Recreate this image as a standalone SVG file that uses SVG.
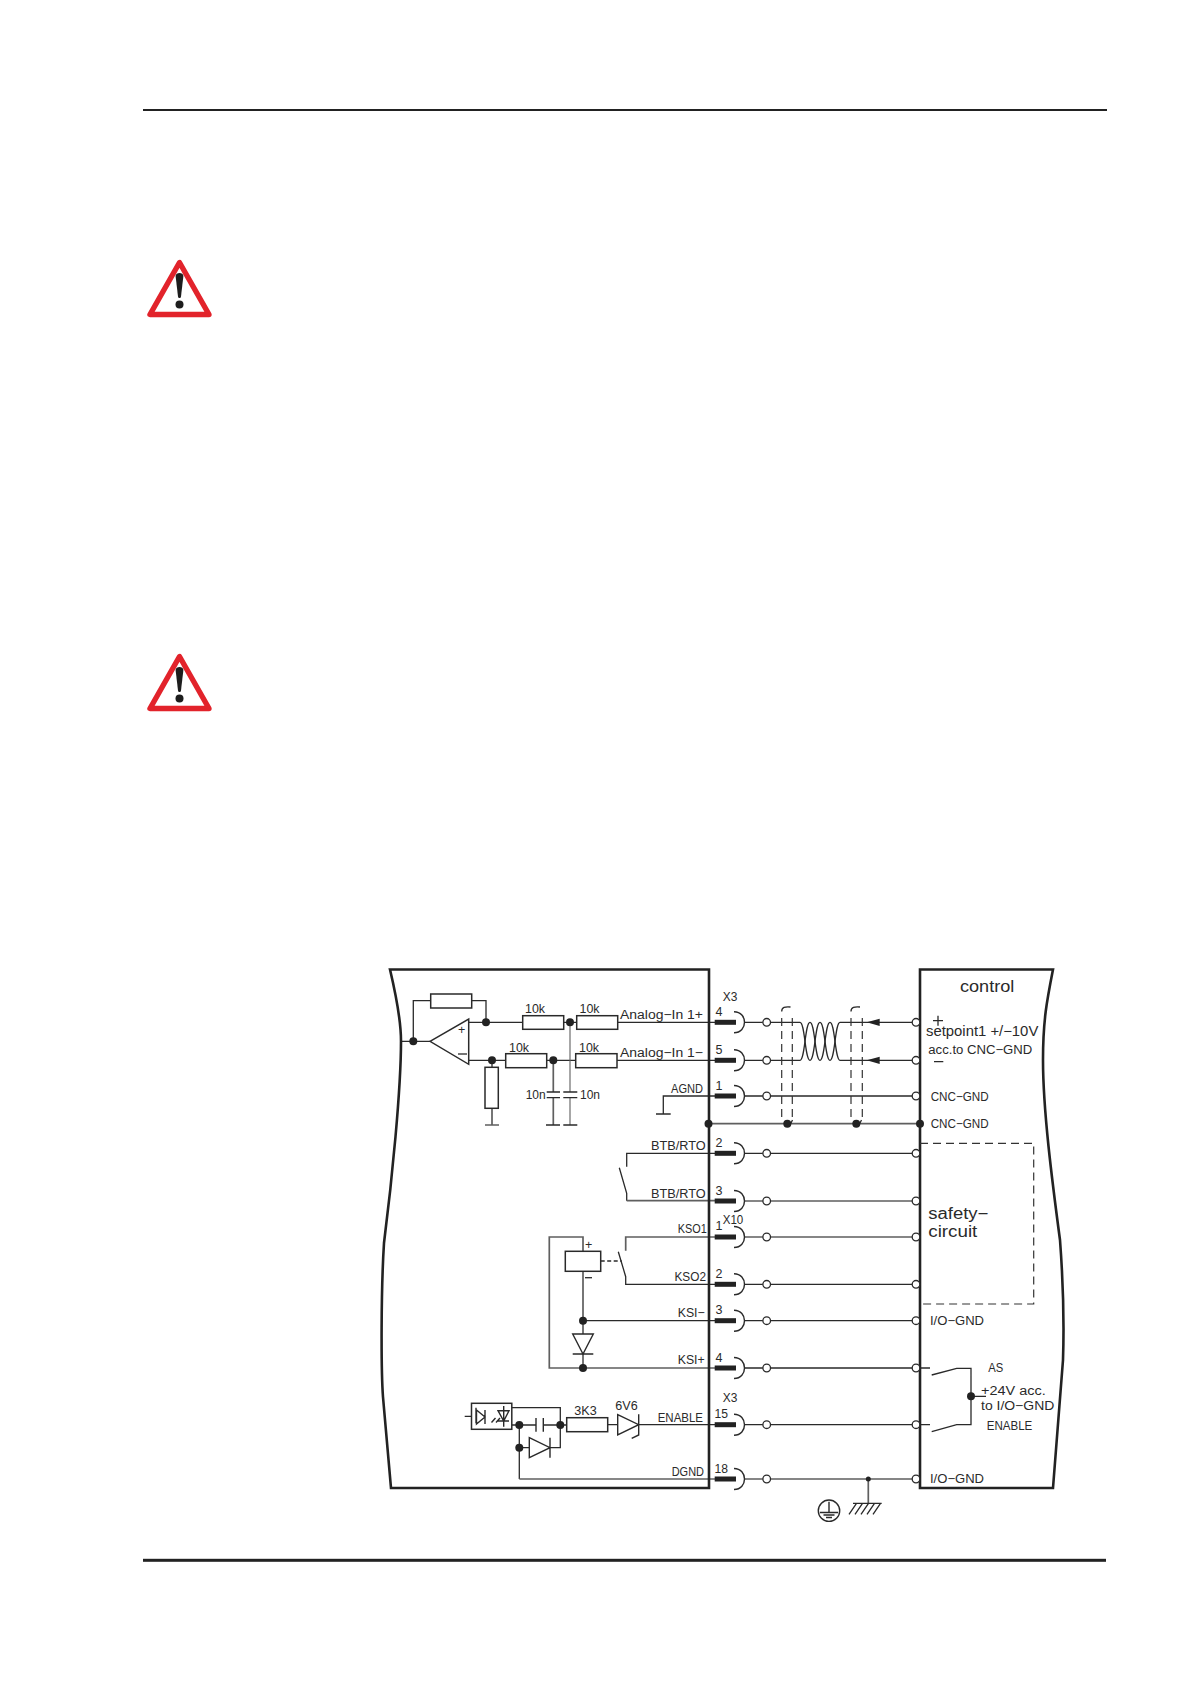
<svg xmlns="http://www.w3.org/2000/svg" xmlns:xlink="http://www.w3.org/1999/xlink" width="1190" height="1684" viewBox="0 0 1190 1684">
<style>
text{font-family:"Liberation Sans",Arial,sans-serif;font-size:12.5px;fill:#2a2a2a}
.w{fill:none;stroke:#2a2a2a;stroke-width:1.3}
.g{fill:none;stroke:#5f5f5f;stroke-width:1.7}
.t{fill:none;stroke:#5f5f5f;stroke-width:1.1}
.box{fill:none;stroke:#222;stroke-width:2.6;stroke-linejoin:miter}
.part{fill:#fff;stroke:#2a2a2a;stroke-width:1.5}
.open{fill:none;stroke:#2a2a2a;stroke-width:1.4}
.dot{fill:#222;stroke:none}
.dash{fill:none;stroke:#333;stroke-width:1.2;stroke-dasharray:8 5}
.ring{fill:#fff;stroke:#2a2a2a;stroke-width:1.3}
.big{font-size:16px}
.mid{font-size:14px}
</style>
<defs>
<g id="pin">
<rect x="714.7" y="-2.5" width="21.3" height="5" fill="#222"/>
<path d="M734 -10.5C748 -10.5 748 10.5 734 10.5" class="open"/>
<circle cx="766.7" cy="0" r="3.8" class="ring"/>
</g>
<g id="warn">
<path d="M179.5 262.5L150 314.5L209 314.5Z" fill="#fff" stroke="#e2232b" stroke-width="5.4" stroke-linejoin="round"/>
<path d="M175.6 276C175.6 272 183.4 272 183.4 276L181 296.5C180.7 298.5 178.3 298.5 178 296.5Z" fill="#1d1d1d"/>
<circle cx="179.5" cy="304.5" r="4" fill="#1d1d1d"/>
</g>
<path id="head" d="M0 0L13 -3.6L13 3.6Z" fill="#222"/>
</defs>

<g id="page-rules">
<rect x="143" y="109" width="964" height="2" fill="#222"/>
<rect x="143" y="1558.8" width="963" height="3" fill="#222"/>
</g>
<use id="warning-1" href="#warn" xlink:href="#warn"/>
<use id="warning-2" href="#warn" xlink:href="#warn" transform="translate(0 394)"/>

<g id="connectors">
<path class="w" d="M401 1041.3H430M413.3 1041.3V1000.7H430.7M471.7 1000.7H486V1022.3M468.7 1022.3H522.7M563.7 1022.3H576.7M617.7 1022.3H715"/>
<path class="w" d="M468.7 1060.3H505.7M546.7 1060.3H575.7M617 1060.3H715"/>
<path class="g" d="M492 1060.3V1067.3M492 1108.3V1125M485 1125H499"/>
<path class="g" d="M553.3 1060.3V1092M553.3 1097.7V1125"/>
<path class="t" d="M570 1022.3V1092M570 1097.7V1125"/>
<path class="w" d="M546.7 1092H560M546.7 1097.7H560M563.3 1092H577.3M563.3 1097.7H577.3M546 1125H560M563.3 1125H577.3"/>
<path class="w" d="M715 1096H663.3V1114M656 1114H670.7"/>
<path class="g" d="M708.5 1123.7H920"/>
<path class="w" d="M715 1153.3H626.7V1166.7M619.3 1167.7L626.7 1193.3V1200.7"/>
<path class="g" d="M626.7 1200.7H715"/>
<path class="g" d="M715 1237H625.7V1250.7"/>
<path class="w" d="M618.3 1251.7L625.7 1276.7V1284.3H715"/>
<path class="g" d="M583 1251.3V1237H549.3V1368H715"/>
<path class="g" d="M583 1271.3V1334M583 1354V1368"/>
<path class="w" d="M600.7 1261H621.7" stroke-dasharray="4 2.5"/>
<path class="w" d="M583 1320.7H715"/>
<path class="w" d="M464.7 1416.3H471.3M512 1407.7H560.3V1447.7H550M512 1425H536M543.3 1425H566.7M519.3 1425V1479M519.3 1447.7H529.3M607.7 1424.7H617.7M638.7 1424.7H715"/>
<path class="g" d="M519.3 1479H715"/>
<path class="w" d="M745 1022.3H762.9M770.5 1022.3H800C805 1022.3 805 1060.3 810 1060.3S815 1022.3 820 1022.3S825 1060.3 830 1060.3S835 1022.3 840 1022.3H912"/>
<path class="w" d="M745 1060.3H762.9M770.5 1060.3H800C805 1060.3 805 1022.3 810 1022.3S815 1060.3 820 1060.3S825 1022.3 830 1022.3S835 1060.3 840 1060.3H912"/>
<use href="#head" xlink:href="#head" x="866.7" y="1022.3"/>
<use href="#head" xlink:href="#head" x="866.7" y="1060.3"/>
<path class="w" d="M745 1096H762.9M770.5 1096H912M745 1153.3H762.9M770.5 1153.3H912"/>
<path class="g" d="M745 1201H762.9M770.5 1201H912M745 1237H762.9M770.5 1237H912"/>
<path class="w" d="M745 1284.3H762.9M770.5 1284.3H912M745 1320.7H762.9M770.5 1320.7H912M745 1368H762.9M770.5 1368H912M745 1424.7H762.9M770.5 1424.7H912"/>
<path class="g" d="M745 1479H762.9M770.5 1479H912M868.3 1479V1503.3"/>
<path class="dash" d="M781.7 1117V1013M792.3 1117V1013M851 1117V1013M862.3 1117V1013"/>
<path class="w" d="M781.7 1011.5C781.7 1007 785 1006.6 790.5 1007M851 1011.5C851 1007 854.5 1006.6 860 1007"/>
<path class="w" d="M790 1125L792.5 1120M859 1125L861.5 1120"/>
<path class="w" d="M920 1368H930M931.7 1375L956.7 1368.3H971V1424.7H956.7L931.7 1431.7M920 1424.7H930M971 1396.3H986"/>
</g>

<g id="box-drive"><path class="box" d="M390 969.5C396 995 401 1020 401 1041C401 1090 392 1180 384 1243C381 1290 381 1370 383 1397L391 1488H709V969.5Z"/></g>
<g id="box-control"><path class="box" d="M920 1488V969.5H1053C1047 1000 1043 1020 1043 1060C1043 1110 1052 1180 1060 1240C1063 1280 1064 1330 1063 1360L1053 1488Z"/>
<path class="dash" d="M920 1143.3H1033.7V1304H920"/></g>

<g id="opamp"><path class="part" d="M430 1041.3L468.7 1019V1064.3Z"/><text x="458" y="1033.5">+</text><path class="w" d="M458 1054H467"/></g>
<g id="r-feedback"><rect class="part" x="430.7" y="994" width="41" height="14"/></g>
<g id="r1"><rect class="part" x="522.7" y="1015.7" width="41" height="13.6"/><text x="525" y="1012.5" textLength="20" lengthAdjust="spacingAndGlyphs">10k</text></g>
<g id="r2"><rect class="part" x="576.7" y="1015.7" width="41" height="13.6"/><text x="579.5" y="1012.5" textLength="20" lengthAdjust="spacingAndGlyphs">10k</text></g>
<g id="r3"><rect class="part" x="505.7" y="1053.7" width="41" height="14"/><text x="509" y="1052" textLength="20" lengthAdjust="spacingAndGlyphs">10k</text></g>
<g id="r4"><rect class="part" x="575.7" y="1053.7" width="41.3" height="14"/><text x="579" y="1052" textLength="20" lengthAdjust="spacingAndGlyphs">10k</text></g>
<g id="r5"><rect class="part" x="485" y="1067.3" width="13.3" height="41"/></g>
<g id="junctions">
<circle class="dot" cx="413.3" cy="1041.3" r="4"/><circle class="dot" cx="486" cy="1022.3" r="4"/><circle class="dot" cx="570" cy="1022.3" r="4"/><circle class="dot" cx="492" cy="1060.3" r="4"/><circle class="dot" cx="553.3" cy="1060.3" r="4"/>
<circle class="dot" cx="708.5" cy="1123.7" r="4"/><circle class="dot" cx="787.3" cy="1123.7" r="4"/><circle class="dot" cx="856.3" cy="1123.7" r="4"/><circle class="dot" cx="920" cy="1123.7" r="4"/>
<circle class="dot" cx="583" cy="1320.7" r="4"/><circle class="dot" cx="583" cy="1368" r="4"/><circle class="dot" cx="519.3" cy="1425" r="4"/><circle class="dot" cx="560.3" cy="1425" r="4"/><circle class="dot" cx="519.3" cy="1447.7" r="4"/>
<circle class="dot" cx="971" cy="1396.3" r="4"/><circle class="dot" cx="868.3" cy="1479" r="2.5"/>
</g>
<g id="labels-caps"><text x="525.7" y="1099" textLength="20" lengthAdjust="spacingAndGlyphs">10n</text><text x="580" y="1099" textLength="20" lengthAdjust="spacingAndGlyphs">10n</text></g>

<g id="relay"><rect class="part" x="565.3" y="1251.3" width="35.4" height="20"/><text x="585" y="1248.5">+</text><path class="w" d="M585 1277.7H592"/></g>
<g id="diode-ksi"><path class="open" d="M572.7 1334H593.3L583 1354ZM572.7 1354H593.3"/></g>
<g id="optocoupler"><rect class="part" x="471.5" y="1403.3" width="40.3" height="26"/>
<path class="open" d="M476 1407.7V1423.3M476.5 1410L485 1417L476.5 1424ZM485 1410V1424M498 1410.7H509L503.7 1421ZM498 1421H509M503.7 1406V1426.7M491.5 1422.5L495.5 1418M496 1422.5L500 1418" />
</g>
<g id="cap-enable"><path class="open" d="M536 1418V1431.7M543.3 1418V1431.7"/></g>
<g id="r-3k3"><rect class="part" x="566.7" y="1417.7" width="41" height="14"/><text x="574.3" y="1415" textLength="22.4" lengthAdjust="spacingAndGlyphs">3K3</text></g>
<g id="zener"><path class="open" d="M617.7 1414.7V1435L638.7 1424.7ZM631.7 1438.3L638.7 1435V1414.3"/><text x="615.3" y="1410" textLength="22.4" lengthAdjust="spacingAndGlyphs">6V6</text></g>
<g id="diode-enable"><path class="open" d="M529.3 1437.7V1457.7L550 1447.7ZM550 1437.7V1457.7"/></g>

<g id="pins">
<use href="#pin" xlink:href="#pin" y="1022.3"/><use href="#pin" xlink:href="#pin" y="1060.3"/><use href="#pin" xlink:href="#pin" y="1096"/><use href="#pin" xlink:href="#pin" y="1153.3"/><use href="#pin" xlink:href="#pin" y="1201"/><use href="#pin" xlink:href="#pin" y="1237"/><use href="#pin" xlink:href="#pin" y="1284.3"/><use href="#pin" xlink:href="#pin" y="1320.7"/><use href="#pin" xlink:href="#pin" y="1368"/><use href="#pin" xlink:href="#pin" y="1424.7"/><use href="#pin" xlink:href="#pin" y="1479"/>
<text x="715.5" y="1016">4</text><text x="715.5" y="1054">5</text><text x="715.5" y="1089.7">1</text><text x="715.5" y="1146.7">2</text><text x="715.5" y="1195">3</text><text x="715.5" y="1230">1</text><text x="715.5" y="1278.3">2</text><text x="715.5" y="1314">3</text><text x="715.5" y="1361.7">4</text><text x="714.5" y="1418.3" textLength="13.5" lengthAdjust="spacingAndGlyphs">15</text><text x="714.5" y="1472.7" textLength="13.5" lengthAdjust="spacingAndGlyphs">18</text>
<text x="722.7" y="1000.7" textLength="14.6" lengthAdjust="spacingAndGlyphs">X3</text><text x="722.7" y="1224" textLength="20.6" lengthAdjust="spacingAndGlyphs">X10</text><text x="722.7" y="1401.7" textLength="14.6" lengthAdjust="spacingAndGlyphs">X3</text>
</g>
<g id="terminals">
<circle class="ring" cx="916" cy="1022.3" r="3.8"/><circle class="ring" cx="916" cy="1060.3" r="3.8"/><circle class="ring" cx="916" cy="1096" r="3.8"/><circle class="ring" cx="916" cy="1153.3" r="3.8"/><circle class="ring" cx="916" cy="1201" r="3.8"/><circle class="ring" cx="916" cy="1237" r="3.8"/><circle class="ring" cx="916" cy="1284.3" r="3.8"/><circle class="ring" cx="916" cy="1320.7" r="3.8"/><circle class="ring" cx="916" cy="1368" r="3.8"/><circle class="ring" cx="916" cy="1424.7" r="3.8"/><circle class="ring" cx="916" cy="1479" r="3.8"/>
</g>

<g id="labels-left">
<text x="620" y="1019" textLength="83" lengthAdjust="spacingAndGlyphs">Analog−In 1+</text>
<text x="620" y="1057" textLength="83" lengthAdjust="spacingAndGlyphs">Analog−In 1−</text>
<text x="671" y="1092.7" textLength="32" lengthAdjust="spacingAndGlyphs">AGND</text>
<text x="651" y="1150" textLength="54.7" lengthAdjust="spacingAndGlyphs">BTB/RTO</text>
<text x="651" y="1197.7" textLength="54.7" lengthAdjust="spacingAndGlyphs">BTB/RTO</text>
<text x="677.7" y="1233.3" textLength="29" lengthAdjust="spacingAndGlyphs">KSO1</text>
<text x="674.5" y="1281" textLength="31.5" lengthAdjust="spacingAndGlyphs">KSO2</text>
<text x="677.7" y="1317.3" textLength="27" lengthAdjust="spacingAndGlyphs">KSI−</text>
<text x="677.7" y="1364.3" textLength="27" lengthAdjust="spacingAndGlyphs">KSI+</text>
<text x="657.7" y="1421.7" textLength="45.3" lengthAdjust="spacingAndGlyphs">ENABLE</text>
<text x="671.7" y="1475.7" textLength="32.3" lengthAdjust="spacingAndGlyphs">DGND</text>
</g>
<g id="labels-right">
<text class="big" x="960" y="991.7" textLength="54.3" lengthAdjust="spacingAndGlyphs">control</text>
<path class="w" d="M933 1020.7H943M938 1015.7V1025.7M934 1061.7H943.3"/>
<text class="mid" x="926" y="1036" textLength="112.3" lengthAdjust="spacingAndGlyphs">setpoint1 +/−10V</text>
<text x="928.3" y="1054.3" textLength="104" lengthAdjust="spacingAndGlyphs">acc.to CNC−GND</text>
<text x="930.7" y="1100.7" textLength="58" lengthAdjust="spacingAndGlyphs">CNC−GND</text>
<text x="930.7" y="1128.3" textLength="58" lengthAdjust="spacingAndGlyphs">CNC−GND</text>
<text class="big" x="928.3" y="1219.3" textLength="60" lengthAdjust="spacingAndGlyphs">safety−</text>
<text class="big" x="928.3" y="1236.7" textLength="49" lengthAdjust="spacingAndGlyphs">circuit</text>
<text x="930" y="1325" textLength="54" lengthAdjust="spacingAndGlyphs">I/O−GND</text>
<text x="988.3" y="1371.7" textLength="15" lengthAdjust="spacingAndGlyphs">AS</text>
<text x="981" y="1395" textLength="64.7" lengthAdjust="spacingAndGlyphs">+24V acc.</text>
<text x="981" y="1410" textLength="73.3" lengthAdjust="spacingAndGlyphs">to I/O−GND</text>
<text x="986.7" y="1430" textLength="45.6" lengthAdjust="spacingAndGlyphs">ENABLE</text>
<text x="930" y="1482.7" textLength="54" lengthAdjust="spacingAndGlyphs">I/O−GND</text>
</g>
<g id="earth">
<circle class="open" cx="829" cy="1510.7" r="10.7"/>
<path class="open" d="M829 1501.7V1512.5M820 1512.5H838M823.5 1515H834.5M826 1517.5H832"/>
<path class="w" d="M853 1503.3H881.7M856.5 1503.3L849 1514.3M862.5 1503.3L855 1514.3M868.5 1503.3L861 1514.3M874.5 1503.3L867 1514.3M880.5 1503.3L873 1514.3"/>
</g>
</svg>
